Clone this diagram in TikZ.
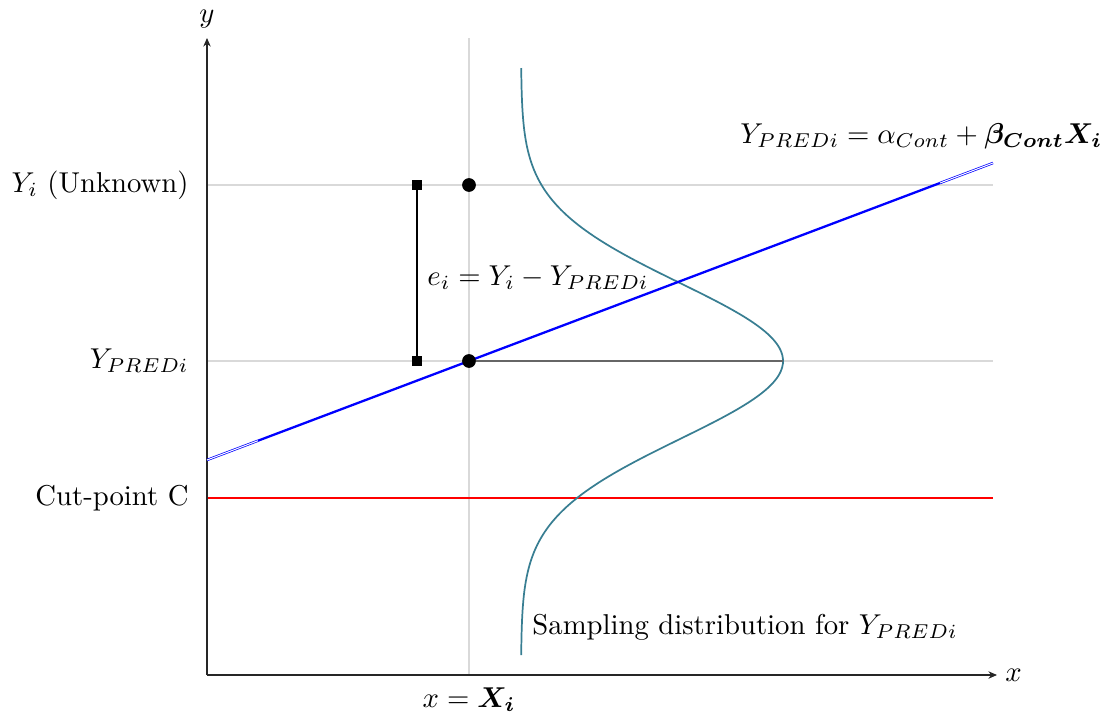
\documentclass[tikz,border=0pt]{standalone}
\usepackage{amsmath,bm}
\usetikzlibrary{arrows.meta}
\definecolor{curvecol}{RGB}{56,126,146}
\tikzset{
  axisline/.style={draw=black!85, line width=0.4pt, -{Stealth[length=3pt,width=2.6pt]}},
  gridline/.style={draw=black!15, line width=0.4pt},
  predline/.style={draw=blue, line width=0.8pt},
  predext/.style={draw=blue, double=white, line width=0.25pt, double distance=0.35pt},
  errline/.style={draw=black, line width=0.8pt},
  sqmark/.style={fill=black, minimum size=3.4pt, inner sep=0pt, rectangle},
  dotmark/.style={fill=black, circle, minimum size=4.8pt, inner sep=0pt},
  lbl/.style={inner sep=1pt, font=\normalsize}
}
\begin{document}
\begin{tikzpicture}[x=0.3484pt, y=-0.3484pt]
\useasboundingbox (0,0) rectangle (1112,719);
% grid
\coordinate (gv1) at (469,38);
\coordinate (gv2) at (469,675);
\draw[gridline] (gv1) -- (gv2);
\coordinate (gh1a) at (207,185); \coordinate (gh1b) at (993,185);
\coordinate (gh2a) at (207,361); \coordinate (gh2b) at (993,361);
\draw[gridline] (gh1a) -- (gh1b);
\draw[gridline] (gh2a) -- (gh2b);
% cut line
\coordinate (ca) at (207,498); \coordinate (cb) at (993,498);
\draw[red, line width=0.7pt] (ca) -- (cb);
% axes
\coordinate (o) at (207,675);
\coordinate (xe) at (997,675);
\coordinate (ye) at (207,38);
\draw[axisline] (o) -- (xe);
\draw[axisline] (o) -- (ye);
\node[lbl, anchor=west] (xl) at (1002,675) {$x$};
\node[lbl, anchor=south] (yl) at (207,32) {$y$};
% gaussian
\draw[curvecol, line width=0.6pt] plot[domain=68:655, samples=150, smooth] ({521+262*exp(-0.5*((\x-361)/78)^2)}, \x);
% gray horizontal
\coordinate (pk) at (783,361);
% blue line
\coordinate (b0) at (207,460);
\coordinate (b1) at (258,440.7);
\coordinate (b2) at (940,183);
\coordinate (b3) at (993,163);
\draw[predext] (b0) -- (b1);
\draw[predext] (b2) -- (b3);
\draw[predline] (b1) -- (b2);
% dots
\node[dotmark] (dp) at (469,361) {};
\node[dotmark] (dy) at (469,185) {};
\draw[black!60, line width=0.6pt] (dp) -- (pk);
% error bar
\node[sqmark] (s1) at (417,185) {};
\node[sqmark] (s2) at (417,361) {};
\draw[errline] (s1.center) -- (s2.center);
% labels
\node[lbl, anchor=east] (lyi) at (192,185) {$Y_i$ (Unknown)};
\node[lbl, anchor=east] (lyp) at (192,361) {$Y_{PREDi}$};
\node[lbl, anchor=east] (lc) at (192,498) {Cut-point C};
\node[lbl, anchor=north] (lx) at (469,684) {$x=\boldsymbol{X_i}$};
\node[lbl, anchor=west] (le) at (424,278) {$e_i=Y_i-Y_{PREDi}$};
\node[lbl, anchor=west] (ls) at (529,627) {Sampling distribution for $Y_{PREDi}$};
\node[lbl, anchor=west] (leq) at (737,136) {$Y_{PREDi}=\alpha_{Cont}+\boldsymbol{\beta_{Cont}X_i}$};
\end{tikzpicture}
\end{document}
